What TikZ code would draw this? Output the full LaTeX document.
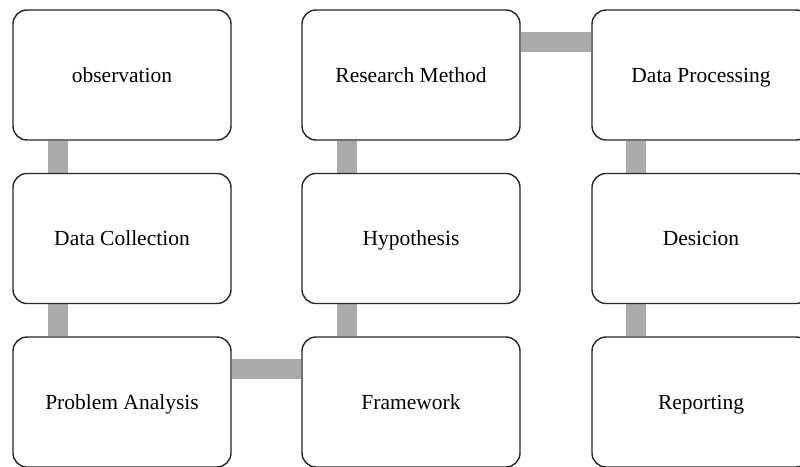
\documentclass[tikz,border=0pt]{standalone}
\usepackage{fontspec}
\setmainfont{Liberation Serif}
\usetikzlibrary{backgrounds}
\begin{document}
\begin{tikzpicture}[x=1pt,y=-1pt,
  stepbox/.style={draw=black!85,line width=1.4pt,rounded corners=14pt,fill=white,
    minimum width=218pt,minimum height=130pt,inner sep=0pt,
    text height=19pt,text depth=5pt,
    font=\fontsize{21.5}{26}\selectfont,text=black},
  conn/.style={draw=black!33,line width=20pt}]
\useasboundingbox (0,0) rectangle (800,466);
\clip (0,0) rectangle (800,466);
\node[stepbox] (obs) at (122,75) {observation};
\node[stepbox] (dc) at (122,238.5) {Data Collection};
\node[stepbox] (pa) at (122,402) {Problem Analysis};
\node[stepbox] (rm) at (411,75) {Research Method};
\node[stepbox] (hy) at (411,238.5) {Hypothesis};
\node[stepbox] (fw) at (411,402) {Framework};
\node[stepbox] (dp) at (701,75) {Data Processing};
\node[stepbox] (de) at (701,238.5) {Desicion};
\node[stepbox] (rp) at (701,402) {Reporting};
\begin{scope}[on background layer]
\draw[conn] ([xshift=-64pt]obs.south) -- ([xshift=-64pt]dc.north);
\draw[conn] ([xshift=-64pt]dc.south) -- ([xshift=-64pt]pa.north);
\draw[conn] ([yshift=33pt]pa.east) -- ([yshift=33pt]fw.west);
\draw[conn] ([xshift=-64pt]fw.north) -- ([xshift=-64pt]hy.south);
\draw[conn] ([xshift=-64pt]hy.north) -- ([xshift=-64pt]rm.south);
\draw[conn] ([yshift=33pt]rm.east) -- ([yshift=33pt]dp.west);
\draw[conn] ([xshift=-65pt]dp.south) -- ([xshift=-65pt]de.north);
\draw[conn] ([xshift=-65pt]de.south) -- ([xshift=-65pt]rp.north);
\end{scope}
\end{tikzpicture}
\end{document}
